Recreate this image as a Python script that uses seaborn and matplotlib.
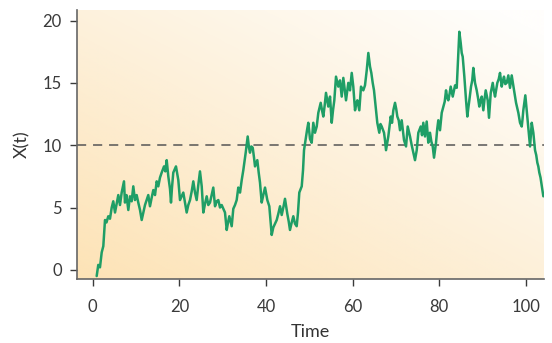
import numpy as np
import pandas as pd
import matplotlib
matplotlib.use("Agg")
import matplotlib.pyplot as plt
from matplotlib.colors import LinearSegmentedColormap
import seaborn as sns

# Sample path X(t) of the process
time = [
    0.92, 1.29, 1.68, 2.08, 2.45, 2.68, 2.84, 3.18, 3.60, 3.99, 4.39, 4.75, 5.15, 5.54, 5.91,
    6.30, 6.69, 7.22, 7.45, 7.80, 8.22, 8.61, 9.00, 9.37, 9.76, 10.15, 10.52, 10.92, 11.31,
    11.68, 12.07, 12.46, 12.83, 13.22, 13.62, 13.99, 14.38, 14.77, 15.14, 15.53, 15.92, 16.46,
    16.76, 17.08, 17.45, 17.84, 18.07, 18.30, 18.60, 19.22, 19.76, 20.15,
    20.91, 21.30, 21.69, 22.06, 22.46, 22.85, 23.22, 23.61, 24.00, 24.37, 24.76, 25.16, 25.53,
    25.92, 26.31, 26.68, 27.07, 27.46, 27.83, 28.23, 28.62, 28.99, 29.38, 29.77, 30.14, 30.53,
    30.93, 31.23, 31.53, 31.80, 32.08, 32.45, 32.84, 33.23, 33.60, 34.00, 34.39, 34.76, 35.31,
    35.77, 36.07, 36.30, 36.60, 36.93, 37.23, 37.46, 37.99, 38.31, 38.61, 39.00, 39.37, 39.77,
    40.30, 40.76, 41.03, 41.31, 41.68, 42.07, 42.47, 42.84, 43.23, 43.62, 43.99, 44.38, 44.91,
    45.23, 45.53, 45.93, 46.30, 46.69, 47.08, 47.38, 47.68, 48.24, 48.54, 48.77, 49.23, 49.46,
    49.76, 50.15,
    50.54, 50.91, 51.30, 51.70, 52.07, 52.62, 52.92, 53.22, 53.54, 53.84, 54.37, 54.77, 55.16,
    55.46, 55.76, 56.15, 56.68, 57.07, 57.47, 57.84, 58.16, 58.46, 58.76, 58.99, 59.38, 59.78,
    60.14, 60.54, 60.81, 61.07, 61.53, 61.92, 62.45, 62.84, 63.24, 63.61, 64.00, 64.30, 64.62,
    64.92, 65.15, 65.43, 65.68, 66.14, 66.42, 66.70, 67.23, 67.46, 67.69, 67.97, 68.22, 68.50,
    68.78, 69.08, 69.38, 69.77, 70.05, 70.30, 70.62, 70.92, 71.31, 71.57, 71.85, 72.31, 72.70,
    73.23, 73.62, 73.99, 74.38, 74.78, 75.15, 75.70,
    76.00, 76.30, 76.69, 77.08, 77.45, 77.84, 78.15, 78.47, 78.77, 79.00, 79.23, 79.51, 79.76,
    80.15, 80.55, 80.92, 81.24, 81.54, 81.82, 82.07, 82.35, 82.62, 83.09, 83.62, 84.01, 84.19,
    84.38, 84.61, 84.93, 85.16, 85.39, 85.58, 85.77, 85.97, 86.16, 86.46, 86.69, 86.92, 87.31,
    87.59, 87.84, 88.23, 88.62, 88.92, 89.22, 89.50, 89.78, 90.15, 90.43, 90.70, 91.16, 91.46,
    91.86, 92.32, 92.62, 92.85, 93.38, 93.70, 94.00, 94.39, 94.69, 94.92, 95.22, 95.55, 95.92,
    96.31, 96.70, 96.96, 97.24, 97.70, 97.97, 98.23, 98.62, 99.01, 99.20, 99.38, 99.84, 100.16,
    100.53, 100.74, 100.93, 101.32, 101.69, 102.08, 102.36, 102.61, 102.84, 103.07, 103.35,
    103.62, 104.00,
]
value = [
    -0.5, 0.4, 0.2, 1.4, 1.9, 3.2, 4.0, 3.8, 4.3, 4.1, 5.0, 5.5, 4.6, 5.3, 6.0,
    5.2, 6.2, 7.1, 5.4, 6.0, 4.8, 5.9, 5.5, 6.7, 5.6, 6.0, 5.4, 4.8, 4.0,
    4.6, 5.2, 5.6, 6.0, 5.1, 5.8, 6.4, 6.0, 7.1, 6.7, 7.4, 7.8, 8.3,
    7.9, 8.8, 7.5, 6.5, 5.4, 6.6, 7.8, 8.3, 7.2, 5.6,
    6.2, 5.4, 4.6, 5.2, 5.6, 6.3, 7.1, 6.2, 5.6, 6.8, 7.9, 6.7, 4.6,
    5.3, 5.9, 5.2, 5.4, 6.0, 6.6, 5.1, 5.5, 5.6, 5.0, 5.2, 4.9, 4.6,
    3.2, 3.8, 4.3, 3.9, 3.5, 4.9, 5.2, 5.6, 6.6, 6.2, 7.2, 8.0, 9.4,
    10.7, 9.8, 9.4, 9.9, 9.8, 9.0, 8.3, 8.8, 7.8, 7.0, 5.4, 6.0, 6.6,
    5.6, 5.1, 4.0, 2.8, 3.4, 3.7, 4.0, 4.5, 5.1, 4.4, 5.0, 5.7, 4.5,
    3.9, 3.2, 3.8, 4.3, 3.7, 3.5, 4.6, 6.2, 6.7, 8.0, 9.6, 10.7, 11.2,
    11.8, 10.5,
    10.2, 11.8, 11.0, 11.5, 12.6, 13.4, 12.8, 12.3, 13.2, 14.2, 13.1, 13.9, 11.8,
    12.8, 13.6, 15.5, 14.7, 15.2, 13.9, 15.4, 14.5, 13.6, 14.4, 15.0, 14.4, 15.8,
    14.7, 12.8, 13.3, 13.6, 12.8, 14.7, 14.4, 14.8, 16.0, 17.4, 16.3, 15.8, 15.0,
    14.4, 13.6, 12.6, 11.8, 11.0, 11.7, 11.5, 11.0, 10.4, 9.6, 10.2, 10.7, 11.5,
    12.3, 11.8, 12.8, 13.4, 12.9, 12.3, 12.0, 11.2, 12.0, 11.2, 10.4, 9.9, 11.5,
    10.7, 10.0, 9.4, 8.8, 9.6, 11.0, 11.5,
    10.8, 11.8, 10.7, 11.9, 10.2, 11.0, 10.3, 9.9, 9.0, 9.6, 10.2, 11.3, 12.0,
    11.2, 12.6, 13.1, 13.5, 14.4, 13.8, 13.6, 14.1, 14.7, 13.9, 14.8, 14.6, 16.0,
    17.6, 19.1, 18.2, 17.4, 17.1, 16.3, 15.5, 14.5, 13.6, 12.3, 13.0, 13.6, 14.7,
    15.2, 16.2, 15.0, 14.4, 13.8, 13.1, 13.6, 13.9, 12.8, 13.7, 14.4, 13.6, 12.2,
    14.2, 15.0, 14.3, 13.9, 15.0, 15.3, 15.8, 14.7, 15.2, 15.5, 14.9, 15.0, 15.6,
    14.6, 15.6, 15.0, 14.4, 13.4, 13.0, 12.6, 11.8, 11.5, 12.1, 12.8, 14.0, 12.8,
    11.5, 10.6, 9.9, 11.8, 11.0, 9.6, 9.2, 8.6, 8.3, 7.8, 7.4,
    6.8, 5.9,
]
threshold = 10
x_ticks = [0, 20, 40, 60, 80, 100]
y_ticks = [0, 5, 10, 15, 20]

df = pd.DataFrame({"Time": time, "X(t)": value})

sns.set_theme(style="ticks")
plt.rcParams["font.family"] = ["Lato", "DejaVu Sans"]

fig = plt.figure(figsize=(5.52, 3.43), dpi=100)
ax = fig.add_axes([0.1395, 0.186, 0.846, 0.785])

# warm diagonal wash: orange in the lower left fading to white at the upper right
gx, gy = np.meshgrid(np.linspace(0, 1, 300), np.linspace(0, 1, 300))
w = np.clip(0.5 * gx + 0.55 * gy, 0, 1)
wash = LinearSegmentedColormap.from_list("wash", ["#fde3b6", "#fdf0d9", "#fffefc"])
ax.imshow(w, cmap=wash, vmin=0, vmax=1, origin="lower", aspect="auto",
          extent=[0, 1, 0, 1], transform=ax.transAxes, zorder=0, interpolation="bilinear")

ax.axhline(threshold, color="#555555", lw=1.1, ls=(0, (6, 4.5)), zorder=1)
sns.lineplot(data=df, x="Time", y="X(t)", ax=ax, color="#1f9e66", lw=1.8,
             estimator=None, sort=False, zorder=2)

ax.set_xlim(-3.62, 104.15)
ax.set_ylim(-0.75, 20.85)
ax.set_xticks(x_ticks)
ax.set_yticks(y_ticks)
ax.set_xlabel("Time", fontsize=13, color="#333333", labelpad=7)
ax.set_ylabel("X(t)", fontsize=13, color="#333333", labelpad=9)
ax.tick_params(axis="x", pad=9)
ax.tick_params(axis="y", pad=6)
ax.tick_params(axis="both", labelsize=12, colors="#3a3a3a", length=5, width=1.0,
               direction="out")
for side in ["top", "right"]:
    ax.spines[side].set_visible(False)
for side in ["left", "bottom"]:
    ax.spines[side].set_color("#666666")
    ax.spines[side].set_linewidth(1.2)

fig.savefig("out.png", dpi=100)
